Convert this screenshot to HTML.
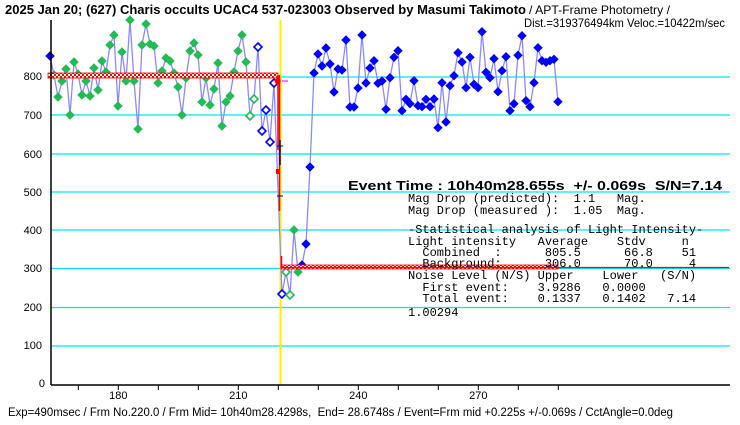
<!DOCTYPE html>
<html><head><meta charset="utf-8"><style>
html,body{margin:0;padding:0;background:#fff;}
svg{display:block;}
.m text{white-space:pre;}
</style></head><body>
<svg id="s" width="740" height="425" xmlns="http://www.w3.org/2000/svg" font-family="Liberation Sans, sans-serif">
<defs>
<pattern id="chk" width="4" height="4" patternUnits="userSpaceOnUse">
<rect width="4" height="4" fill="#fff"/><rect width="2" height="2" fill="#f00"/><rect x="2" y="2" width="2" height="2" fill="#f00"/>
</pattern>
</defs>
<rect width="740" height="425" fill="#fff"/>
<g stroke="#00e5ee" stroke-width="1.3">
<line x1="51" y1="77" x2="730" y2="77"/>
<line x1="51" y1="115" x2="730" y2="115"/>
<line x1="51" y1="154" x2="730" y2="154"/>
<line x1="51" y1="192" x2="730" y2="192"/>
<line x1="51" y1="230" x2="730" y2="230"/>
<line x1="51" y1="268.5" x2="730" y2="268.5"/>
<line x1="51" y1="307.5" x2="730" y2="307.5"/>
<line x1="51" y1="346" x2="730" y2="346"/>
</g>
<line x1="280.5" y1="20" x2="280.5" y2="385" stroke="#ffee00" stroke-width="2"/>
<g id="data"></g>
<rect x="48" y="73" width="230" height="5" fill="url(#chk)" stroke="#f00" stroke-width="0.8"/>
<rect x="281" y="265" width="277" height="4" fill="url(#chk)" stroke="#f00" stroke-width="0.8"/>
<line x1="281" y1="267.5" x2="729" y2="267.5" stroke="#f00" stroke-width="1.2"/>
<line x1="278" y1="75" x2="278" y2="150" stroke="#f00" stroke-width="1.5"/>
<line x1="279.5" y1="75" x2="279.5" y2="211" stroke="#f00" stroke-width="1.5"/>
<line x1="281.5" y1="256" x2="281.5" y2="267" stroke="#f00" stroke-width="1.5"/>
<line x1="280" y1="140" x2="280" y2="165" stroke="#00008b" stroke-width="1.5"/>
<line x1="277" y1="146" x2="283" y2="146" stroke="#00008b"/>
<line x1="277" y1="196" x2="283" y2="196" stroke="#00008b"/>
<rect x="276" y="169" width="3" height="5" fill="#f00"/>
<circle cx="277.7" cy="81.3" r="3" fill="#f00"/>
<line x1="282" y1="81" x2="288" y2="81" stroke="#e000e0"/>
<line x1="51" y1="20" x2="51" y2="385" stroke="#000" stroke-width="1.5"/>
<line x1="51" y1="385" x2="730" y2="385" stroke="#000" stroke-width="1.5"/>
<g stroke="#000" id="ticks"></g>
<g font-size="11" text-anchor="end" fill="#000">
<text x="42" y="80">800</text><text x="42" y="119">700</text><text x="42" y="158">600</text>
<text x="42" y="196">500</text><text x="42" y="234">400</text><text x="42" y="272">300</text>
<text x="42" y="311">200</text><text x="42" y="349">100</text><text x="45" y="387">0</text>
</g>
<g font-size="11" text-anchor="middle" fill="#000">
<text x="118.3" y="399">180</text><text x="238.3" y="399">210</text><text x="358.3" y="399">240</text><text x="478.3" y="399">270</text>
</g>
<text x="5" y="14" font-size="12.5" font-weight="bold" textLength="521" lengthAdjust="spacingAndGlyphs">2025 Jan 20; (627) Charis occults UCAC4 537-023003 Observed by Masumi Takimoto</text>
<text x="529" y="14" font-size="12" textLength="141" lengthAdjust="spacingAndGlyphs">/ APT-Frame Photometry /</text>
<text x="524" y="27" font-size="12" textLength="201" lengthAdjust="spacingAndGlyphs">Dist.=319376494km Veloc.=10422m/sec</text>
<text x="8" y="416" font-size="11.5" textLength="665" lengthAdjust="spacingAndGlyphs" style="white-space:pre">Exp=490msec / Frm No.220.0 / Frm Mid= 10h40m28.4298s,  End= 28.6748s / Event=Frm mid +0.225s +/-0.069s / CctAngle=0.0deg</text>
<text x="348" y="190" font-size="13" font-weight="bold" textLength="374" lengthAdjust="spacingAndGlyphs" style="white-space:pre">Event Time : 10h40m28.655s  +/- 0.069s  S/N=7.14</text>
<g class="m" font-family="Liberation Mono, monospace" font-size="12" fill="#000">
<text x="408" y="202">Mag Drop (predicted):  1.1   Mag.</text>
<text x="408" y="214">Mag Drop (measured ):  1.05  Mag.</text>
<text x="408" y="233">-Statistical analysis of Light Intensity-</text>
<text x="408" y="245">Light intensity   Average    Stdv     n</text>
<text x="408" y="256">  Combined  :      805.5      66.8    51</text>
<text x="408" y="267">  Background:      306.0      70.0     4</text>
<text x="408" y="279">Noise Level (N/S) Upper    Lower   (S/N)</text>
<text x="408" y="291">  First event:    3.9286   0.0000</text>
<text x="408" y="302">  Total event:    0.1337   0.1402   7.14</text>
<text x="408" y="316">1.00294</text>
</g>
</svg>
<script>
var NS="http://www.w3.org/2000/svg";
function el(t,a,p){var e=document.createElementNS(NS,t);for(var k in a)e.setAttribute(k,a[k]);p.appendChild(e);return e;}
var tg=document.getElementById("ticks");
for(var v=170;v<=290;v+=10){var x=118.3+(v-180)*4;el("line",{x1:x,y1:385,x2:x,y2:390},tg);}
var G="#22bb55",B="#0000ff";
var L=[56,75,97,81,69,115,62,74,95,81,96,68,90,61,72,45,35,106,52,81,20,81,129,45,24,44,46,83,71,58,61,73,87,115,78,51,43,55,102,78,105,89,63,126,102,96,72,51,35,62,116,99,47,131,110,142,83];
var P=[];
for(var i=0;i<L.length;i++){var c=G,h=false;if(i==0)c=B;if(i==50||i==51)h=true;if(i>=52){c=B;h=true;}P.push([50+4*i,L[i],c,h]);}
P.push([282,294,B,true],[286,272,G,true],[290,295,G,true],[294,230,G,false],[298,272,G,false],[302,265,B,false],[306,244,B,false],[310,167,B,false]);
var R=[73,54,66,48,64,92,69,70,40,107,107,88,35,83,68,60.7,83.3,81,109.3,77.7,57.3,50.7,110.7,99.3,103.7,80.7,105.7,106.7,99.3,106.7,99,127.7,82.7,122,85.7,75.7,52.7,62,87.7,57.3,84.3,87.7,31.7,72.3,77.7,58.7,91.7,70.7,56.7,110.7,103.7,55.3,35.7,100.7,106.7,82.7,47.7,60.7,62.3,60.7,59.3,101.7];
for(var j=0;j<R.length;j++)P.push([314+4*j,R[j],B,false]);
var dg=document.getElementById("data");
el("polyline",{points:P.map(function(p){return p[0]+","+p[1];}).join(" "),fill:"none",stroke:"#8a8aff","stroke-width":1.3},dg);
P.forEach(function(p){var x=p[0],y=p[1],r=4;
 var pts=(x)+","+(y-r)+" "+(x+r)+","+y+" "+x+","+(y+r)+" "+(x-r)+","+y;
 if(p[3])el("polygon",{points:pts,fill:"#fff",stroke:p[2],"stroke-width":1.6},dg);
 else el("polygon",{points:pts,fill:p[2],stroke:p[2],"stroke-width":1},dg);
});
</script>
</body></html>
